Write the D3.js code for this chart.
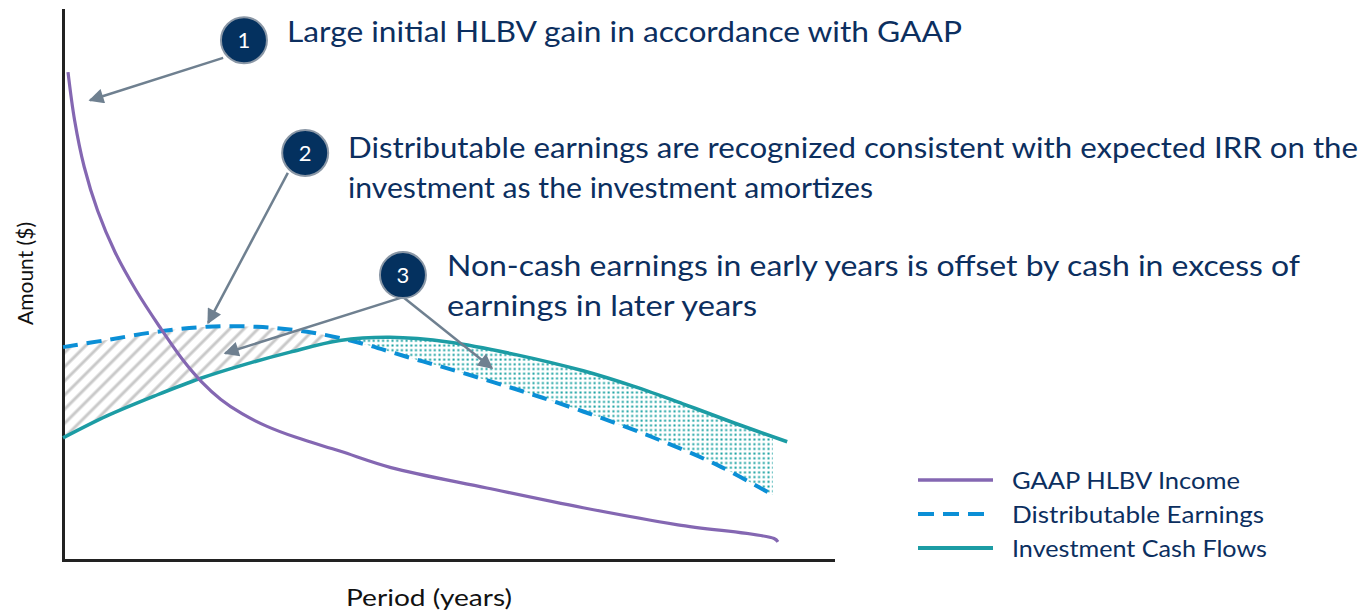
<!DOCTYPE html>
<html>
<head>
<meta charset="utf-8">
<script src="https://cdn.jsdelivr.net/npm/d3@7"></script>
<style>
  html, body { margin: 0; padding: 0; background: #fff; }
  svg { display: block; }
  text { font-family: Lato, "Open Sans", sans-serif; }
</style>
</head>
<body>
<svg id="chart" width="1362" height="612"></svg>
<script>
// ---------- DATA ----------
const seriesNames = ["GAAP HLBV Income", "Distributable Earnings", "Investment Cash Flows"];

// GAAP HLBV Income (period in years, amount)
const gaapPeriod = [0.13, 0.30, 0.55, 0.90, 1.35, 1.90, 2.50, 3.10, 3.60, 4.10, 4.65, 5.30, 6.05, 7.19, 8.52, 11.01, 13.51, 15.97, 18.47, 18.57];
const gaapAmount = [88.7, 80.0, 71.5, 63.5, 56.0, 49.0, 42.5, 36.5, 32.4, 29.2, 26.6, 24.3, 22.3, 19.8, 16.8, 13.1, 9.5, 6.4, 3.9, 3.3];

// Distributable Earnings
const dePeriod = [0.00, 1.14, 2.44, 3.74, 5.04, 6.34, 7.64, 8.90, 10.05, 11.79, 13.51, 15.25, 16.99, 18.44];
const deAmount = [38.7, 40.0, 41.5, 42.4, 42.4, 41.5, 39.6, 37.0, 34.7, 31.0, 27.0, 22.5, 17.3, 11.8];

// Investment Cash Flows
const icfPeriod = [0.00, 1.14, 2.44, 3.56, 4.60, 5.90, 7.19, 8.49, 10.05, 11.79, 13.51, 14.81, 16.10, 17.40, 18.81];
const icfAmount = [22.2, 26.2, 30.0, 33.0, 35.3, 37.8, 39.9, 40.5, 39.6, 37.3, 34.4, 31.6, 28.4, 25.0, 21.5];

// Annotations (numbered callouts)
const calloutNumbers = ["1", "2", "3"];
const calloutPeriod = [4.70, 6.29, 8.83];
const calloutAmount = [94.5, 74.0, 51.8];
const calloutText = [
  ["Large initial HLBV gain in accordance with GAAP"],
  ["Distributable earnings are recognized consistent with expected IRR on the", "investment as the investment amortizes"],
  ["Non-cash earnings in early years is offset by cash in excess of", "earnings in later years"]
];
// Arrows: callout index, start (period, amount), tip (period, amount)
const arrowCallout = [0, 1, 2, 2];
const arrowStartPeriod = [4.16, 5.84, 8.83, 8.83];
const arrowStartAmount = [91.3, 70.4, 47.8, 47.8];
const arrowTipPeriod = [0.70, 3.77, 4.21, 11.14];
const arrowTipAmount = [83.6, 43.1, 37.6, 34.9];

const xAxisTitle = "Period (years)";
const yAxisTitle = "Amount ($)";

// ---------- SETUP ----------
const svg = d3.select("#chart");
const plotLeft = 63, plotRight = 833, plotTop = 10, plotBottom = 560;

const x = d3.scaleLinear().domain([0, 20]).range([plotLeft, plotRight]);
const y = d3.scaleLinear().domain([0, 100]).range([plotBottom, plotTop]);

const colors = { gaap: "#8467b2", de: "#0b8fd6", icf: "#1c9ca4", navy: "#0c2f5f", arrow: "#6f8090" };

const gaap = gaapPeriod.map((p, i) => [p, gaapAmount[i]]);
const de = dePeriod.map((p, i) => [p, deAmount[i]]);
const icf = icfPeriod.map((p, i) => [p, icfAmount[i]]);

const curve = d3.curveCatmullRom.alpha(0.5);
const line = d3.line().x(d => x(d[0])).y(d => y(d[1])).curve(curve);
const areaBelow = d3.area().x(d => x(d[0])).y0(y(0)).y1(d => y(d[1])).curve(curve);
const areaAbove = d3.area().x(d => x(d[0])).y0(0).y1(d => y(d[1])).curve(curve);

const defs = svg.append("defs");

// hatch pattern
const hatch = defs.append("pattern").attr("id", "hatch").attr("patternUnits", "userSpaceOnUse")
  .attr("width", 10).attr("height", 10).attr("patternTransform", "rotate(45)");
hatch.append("line").attr("x1", 5).attr("y1", -1).attr("x2", 5).attr("y2", 11)
  .attr("stroke", "#c9c9c9").attr("stroke-width", 3);

// dot pattern
const dots = defs.append("pattern").attr("id", "dots").attr("patternUnits", "userSpaceOnUse")
  .attr("width", 4.7).attr("height", 4.7);
dots.append("rect").attr("x", 1.4).attr("y", 1.4).attr("width", 2).attr("height", 2).attr("fill", "#14a0a0");

// clip paths
defs.append("clipPath").attr("id", "aboveICF").append("path").attr("d", areaAbove(icf));
defs.append("clipPath").attr("id", "aboveDE").append("path").attr("d", areaAbove(de));

// arrow marker
defs.append("marker").attr("id", "arrowhead").attr("viewBox", "0 0 10 10")
  .attr("refX", 9).attr("refY", 5).attr("markerWidth", 6.5).attr("markerHeight", 6)
  .attr("markerUnits", "strokeWidth").attr("orient", "auto")
  .append("path").attr("d", "M0,0 L10,5 L0,10 z").attr("fill", colors.arrow);

// ---------- FILLS ----------
svg.append("path").attr("d", areaBelow(de)).attr("fill", "url(#hatch)").attr("clip-path", "url(#aboveICF)");
svg.append("path").attr("d", areaBelow(icf)).attr("fill", "url(#dots)").attr("clip-path", "url(#aboveDE)");

// ---------- AXES ----------
const xAxis = d3.axisBottom(x).tickValues([]).tickSizeOuter(0);
const yAxis = d3.axisLeft(y).tickValues([]).tickSizeOuter(0);
const gx = svg.append("g").attr("transform", `translate(0,${plotBottom})`).call(xAxis);
const gy = svg.append("g").attr("transform", `translate(${plotLeft},0)`).call(yAxis);
[gx, gy].forEach(g => g.select(".domain").attr("stroke", "#222").attr("stroke-width", 3).attr("stroke-linecap", "square"));

svg.append("text").attr("x", 346).attr("y", 606)
  .attr("font-size", 23).attr("fill", "#111")
  .attr("textLength", 166).attr("lengthAdjust", "spacingAndGlyphs").text(xAxisTitle);
svg.append("text").attr("transform", `translate(33,325) rotate(-90)`)
  .attr("font-size", 21).attr("fill", "#111")
  .attr("textLength", 103).attr("lengthAdjust", "spacingAndGlyphs").text(yAxisTitle);

// ---------- LINES ----------
svg.append("path").attr("d", line(de)).attr("fill", "none").attr("stroke", colors.de)
  .attr("stroke-width", 4).attr("stroke-dasharray", "15,9");
svg.append("path").attr("d", line(icf)).attr("fill", "none").attr("stroke", colors.icf)
  .attr("stroke-width", 3.5);
svg.append("path").attr("d", line(gaap)).attr("fill", "none").attr("stroke", colors.gaap)
  .attr("stroke-width", 3.2);

// ---------- ANNOTATIONS ----------
arrowCallout.forEach((c, i) => {
  svg.append("line")
    .attr("x1", x(arrowStartPeriod[i])).attr("y1", y(arrowStartAmount[i]))
    .attr("x2", x(arrowTipPeriod[i])).attr("y2", y(arrowTipAmount[i]))
    .attr("stroke", colors.arrow).attr("stroke-width", 2.5).attr("marker-end", "url(#arrowhead)");
});

const textStyle = [
  { x: 287, y: [42], w: [675] },
  { x: 348, y: [158, 198], w: [1010, 525] },
  { x: 447, y: [276, 316], w: [853, 310] }
];
calloutNumbers.forEach((n, i) => {
  const cx = x(calloutPeriod[i]), cy = y(calloutAmount[i]);
  svg.append("circle").attr("cx", cx).attr("cy", cy).attr("r", 23)
    .attr("fill", "#04315f").attr("stroke", "#8a97a6").attr("stroke-width", 2);
  svg.append("text").attr("x", cx).attr("y", cy + 8).attr("text-anchor", "middle")
    .attr("font-size", 22).attr("fill", "#fff").text(n);
  calloutText[i].forEach((t, j) => {
    svg.append("text").attr("x", textStyle[i].x).attr("y", textStyle[i].y[j])
      .attr("font-size", 28).attr("fill", colors.navy)
      .attr("textLength", textStyle[i].w[j]).attr("lengthAdjust", "spacingAndGlyphs")
      .text(t);
  });
});

// ---------- LEGEND ----------
const legendStyles = [
  { color: colors.gaap, dash: null, w: 3.5 },
  { color: colors.de, dash: "16,9", w: 4 },
  { color: colors.icf, dash: null, w: 4 }
];
const legendW = [228, 252, 255];
seriesNames.forEach((name, i) => {
  const ly = 480 + i * 34;
  svg.append("line").attr("x1", 918).attr("x2", 993).attr("y1", ly).attr("y2", ly)
    .attr("stroke", legendStyles[i].color).attr("stroke-width", legendStyles[i].w)
    .attr("stroke-dasharray", legendStyles[i].dash);
  svg.append("text").attr("x", 1012).attr("y", ly + 9).attr("font-size", 23)
    .attr("fill", colors.navy).attr("textLength", legendW[i]).attr("lengthAdjust", "spacingAndGlyphs")
    .text(name);
});
</script>
</body>
</html>
